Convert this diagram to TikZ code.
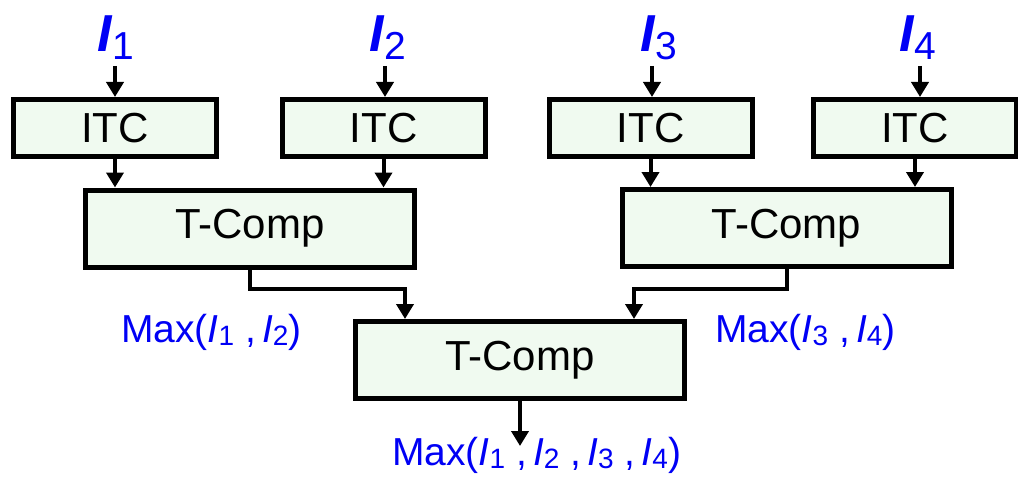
\documentclass[tikz,border=0pt]{standalone}
\usepackage{fontspec}
\setmainfont{Liberation Sans}
\usetikzlibrary{arrows.meta}
\definecolor{boxfill}{RGB}{240,250,240}
\definecolor{lblue}{RGB}{0,0,245}
\newcommand\bigI[1]{{\fontsize{52}{56}\selectfont\bfseries\itshape I}\raisebox{-8pt}{\fontsize{39}{40}\selectfont #1}}
\newcommand\smI[1]{{\itshape I}\raisebox{-3pt}{\fontsize{28}{30}\selectfont #1}}
\newcommand\csep{\hspace{11pt},\hspace{6pt}}
\tikzset{
  blk/.style={draw=black, line width=5pt, fill=boxfill, inner sep=0pt,
    font=\fontsize{42}{46}\selectfont},
  itcbox/.style={blk, minimum width=203pt, minimum height=57pt},
  tcbox/.style={blk, minimum width=329pt, minimum height=77pt},
  arr/.style={line width=4pt, line join=miter, -{Triangle[width=17pt,length=15pt]}},
  inlbl/.style={text=lblue, inner sep=0pt, anchor=base},
  maxlbl/.style={text=lblue, inner sep=0pt, anchor=base west, font=\fontsize{39}{42}\selectfont},
}
\begin{document}
\begin{tikzpicture}[x=1pt,y=-1pt]
\useasboundingbox (0,0) rectangle (1018,487);
% boxes
\node[itcbox] (itc1) at (115,128) {ITC};
\node[itcbox] (itc2) at (383.5,128) {ITC};
\node[itcbox] (itc3) at (650.5,128) {ITC};
\node[itcbox] (itc4) at (915,128) {ITC};
\node[tcbox] (tc1) at (250,228.5) {T-Comp};
\node[tcbox] (tc2) at (786.5,228) {T-Comp};
\node[tcbox] (tc3) at (520,360) {T-Comp};
% input labels
\node[inlbl] (l1) at (116,52) {\bigI{1}};
\node[inlbl] (l2) at (388,52) {\bigI{2}};
\node[inlbl] (l3) at (659,52) {\bigI{3}};
\node[inlbl] (l4) at (918,52) {\bigI{4}};
% output labels
\node[maxlbl] (m12) at (121,342) {Max(\smI{1}\csep\smI{2})};
\node[maxlbl] (m34) at (715,342) {Max(\smI{3}\csep\smI{4})};
\node[maxlbl] (m1234) at (392,465) {Max(\smI{1}\csep\smI{2}\csep\smI{3}\csep\smI{4})};
% input arrows
\coordinate (a1) at (115,66);
\coordinate (a2) at (385,66);
\coordinate (a3) at (652,66);
\coordinate (a4) at (920,66);
\draw[arr] (a1) -- (a1 |- itc1.north);
\draw[arr] (a2) -- (a2 |- itc2.north);
\draw[arr] (a3) -- (a3 |- itc3.north);
\draw[arr] (a4) -- (a4 |- itc4.north);
% ITC -> T-Comp
\draw[arr] (itc1.south) -- (itc1.south |- tc1.north);
\draw[arr] (itc2.south) -- (itc2.south |- tc1.north);
\draw[arr] (itc3.south) -- (itc3.south |- tc2.north);
\draw[arr] (itc4.south) -- (itc4.south |- tc2.north);
% T-Comp -> T-Comp
\coordinate (b1) at (405,289);
\coordinate (b2) at (634,289);
\draw[arr] (tc1.south) |- (b1) -- (b1 |- tc3.north);
\draw[arr] (tc2.south) |- (b2) -- (b2 |- tc3.north);
% output
\coordinate (o) at (520,446);
\draw[arr] (tc3.south) -- (o);
\end{tikzpicture}
\end{document}
